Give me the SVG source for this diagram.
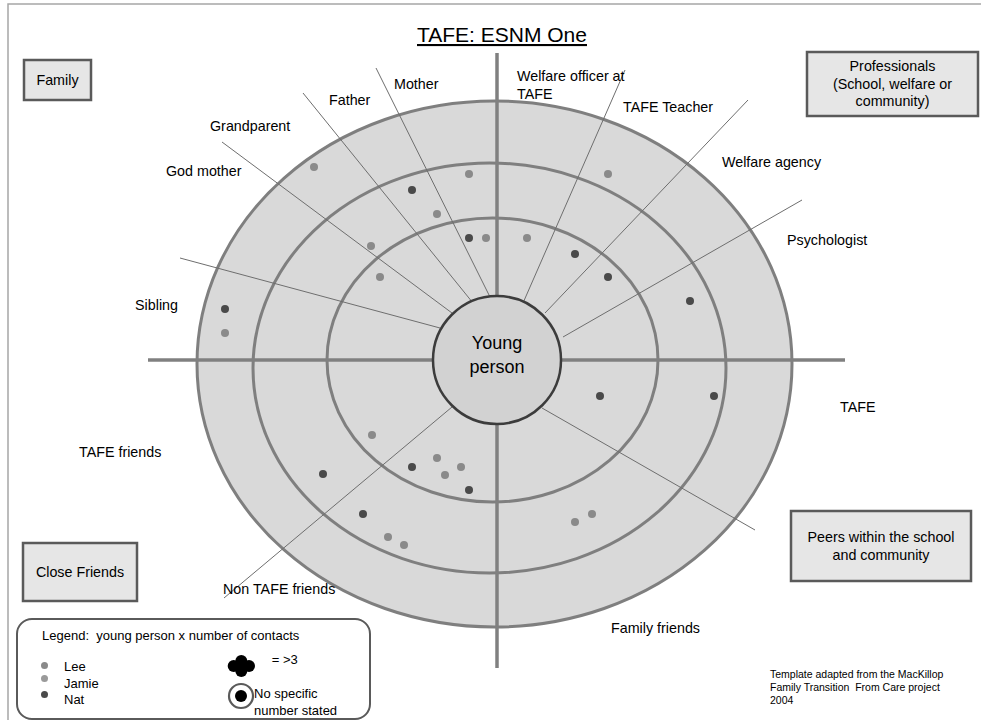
<svg xmlns="http://www.w3.org/2000/svg" width="981" height="720" viewBox="0 0 981 720">
<style>
text{font-family:"Liberation Sans",Arial,sans-serif;fill:#000}
.lbl{font-size:14.3px}
.box{fill:#e6e6e6;stroke:#5a5a5a;stroke-width:2.5}
.ring{fill:#d9d9d9;stroke:#7f7f7f;stroke-width:3}
.axis{stroke:#808080;stroke-width:3.5;fill:none}
.spoke{stroke:#6e6e6e;stroke-width:1;fill:none}
.lt{fill:#8a8a8a}
.jm{fill:#9a9a9a}
.dk{fill:#4a4a4a}
.sm{font-size:13px}
.ft{font-size:10.5px}
</style>
<rect x="0" y="0" width="981" height="720" fill="#fff"/>
<rect x="8" y="4" width="990" height="730" fill="none" stroke="#a6a6a6" stroke-width="1.5"/>

<g id="title"><text x="502" y="42" font-size="21px" text-anchor="middle" text-decoration="underline">TAFE: ESNM One</text></g>

<g id="rings">
<ellipse class="ring" cx="494.5" cy="364" rx="297.5" ry="263"/>
<ellipse class="ring" cx="489.5" cy="368" rx="236.5" ry="205"/>
<ellipse class="ring" cx="492.5" cy="360" rx="165.5" ry="142"/>
</g>

<g id="connectors">
<line class="spoke" x1="180" y1="258" x2="440" y2="328"/>
<line class="spoke" x1="222" y1="142" x2="452" y2="313"/>
<line class="spoke" x1="303" y1="93" x2="473" y2="303"/>
<line class="spoke" x1="376" y1="68" x2="490" y2="297"/>
<line class="spoke" x1="625" y1="70" x2="523" y2="303"/>
<line class="spoke" x1="748" y1="100" x2="545" y2="313"/>
<line class="spoke" x1="802" y1="200" x2="563" y2="337"/>
<line class="spoke" x1="542" y1="408" x2="755" y2="530"/>
<line class="spoke" x1="452" y1="407" x2="224" y2="598"/>
<line class="axis" x1="497" y1="53" x2="497" y2="668"/>
<line class="axis" x1="148" y1="360" x2="845" y2="360"/>
</g>

<g id="dots">
<circle class="lt" cx="314" cy="167" r="4"/>
<circle class="lt" cx="469" cy="174" r="4"/>
<circle class="dk" cx="412" cy="190" r="4"/>
<circle class="lt" cx="437" cy="214" r="4"/>
<circle class="dk" cx="469" cy="238" r="4"/>
<circle class="lt" cx="486" cy="238" r="4"/>
<circle class="lt" cx="371" cy="246" r="4"/>
<circle class="lt" cx="380" cy="277" r="4"/>
<circle class="dk" cx="225" cy="309" r="4"/>
<circle class="lt" cx="225" cy="333" r="4"/>
<circle class="lt" cx="608" cy="174" r="4"/>
<circle class="lt" cx="527" cy="238" r="4"/>
<circle class="dk" cx="575" cy="254" r="4"/>
<circle class="dk" cx="608" cy="277" r="4"/>
<circle class="dk" cx="690" cy="301" r="4"/>
<circle class="dk" cx="714" cy="396" r="4"/>
<circle class="dk" cx="600" cy="396" r="4"/>
<circle class="lt" cx="372" cy="435" r="4"/>
<circle class="lt" cx="437" cy="458" r="4"/>
<circle class="dk" cx="412" cy="467" r="4"/>
<circle class="lt" cx="461" cy="467" r="4"/>
<circle class="lt" cx="445" cy="475" r="4"/>
<circle class="dk" cx="323" cy="474" r="4"/>
<circle class="dk" cx="469" cy="490" r="4"/>
<circle class="dk" cx="363" cy="514" r="4"/>
<circle class="lt" cx="592" cy="514" r="4"/>
<circle class="lt" cx="575" cy="522" r="4"/>
<circle class="lt" cx="388" cy="537" r="4"/>
<circle class="lt" cx="404" cy="545" r="4"/>
</g>

<g id="young-person">
<circle cx="497" cy="360" r="64" fill="#d2d2d2" stroke="#3c3c3c" stroke-width="2.5"/>
<text x="497" y="349" font-size="18px" text-anchor="middle">Young</text>
<text x="497" y="373" font-size="18px" text-anchor="middle">person</text>
</g>

<g id="family"><rect class="box" x="24" y="60" width="67" height="40"/><text class="lbl" x="57.5" y="85" text-anchor="middle">Family</text></g>
<g id="professionals"><rect class="box" x="807" y="52" width="171" height="64"/>
<text class="lbl" x="892.5" y="71" text-anchor="middle">Professionals</text>
<text class="lbl" x="892.5" y="89" text-anchor="middle">(School, welfare or</text>
<text class="lbl" x="892.5" y="106" text-anchor="middle">community)</text></g>
<g id="close-friends"><rect class="box" x="23" y="543" width="114" height="58"/><text class="lbl" x="80" y="577" text-anchor="middle">Close Friends</text></g>
<g id="peers"><rect class="box" x="791" y="511" width="180" height="70"/>
<text class="lbl" x="881" y="542" text-anchor="middle">Peers within the school</text>
<text class="lbl" x="881" y="560" text-anchor="middle">and community</text></g>

<g id="labels">
<text class="lbl" x="394" y="89">Mother</text>
<text class="lbl" x="329" y="105">Father</text>
<text class="lbl" x="210" y="131">Grandparent</text>
<text class="lbl" x="166" y="176">God mother</text>
<text class="lbl" x="178" y="310" text-anchor="end">Sibling</text>
<text class="lbl" x="79" y="457">TAFE friends</text>
<text class="lbl" x="223" y="594">Non TAFE friends</text>
<text class="lbl" x="611" y="633">Family friends</text>
<text class="lbl" x="840" y="412">TAFE</text>
<text class="lbl" x="787" y="245">Psychologist</text>
<text class="lbl" x="722" y="167">Welfare agency</text>
<text class="lbl" x="623" y="112">TAFE Teacher</text>
<text class="lbl" x="517" y="81">Welfare officer at</text>
<text class="lbl" x="517" y="99">TAFE</text>
</g>

<g id="footnote">
<text class="ft" x="770" y="678">Template adapted from the MacKillop</text>
<text class="ft" x="770" y="691" xml:space="preserve">Family Transition  From Care project</text>
<text class="ft" x="770" y="704">2004</text>
</g>

<g id="legend">
<rect x="17" y="619" width="353" height="100" rx="15" ry="15" fill="#fff" stroke="#5a5a5a" stroke-width="2"/>
<text class="sm" x="42" y="640" xml:space="preserve">Legend:  young person x number of contacts</text>
<circle class="lt" cx="44.5" cy="665.5" r="3.5"/>
<circle class="jm" cx="44.5" cy="678.5" r="3.5"/>
<circle class="dk" cx="44.5" cy="694.5" r="3.5"/>
<text class="sm" x="64" y="671">Lee</text>
<text class="sm" x="64" y="687.5">Jamie</text>
<text class="sm" x="64" y="703.5">Nat</text>
<g fill="#000">
<circle cx="233.7" cy="666" r="6"/>
<circle cx="249" cy="666" r="6"/>
<circle cx="241.3" cy="661" r="6"/>
<circle cx="241.3" cy="671" r="6"/>
<rect x="236" y="661" width="10" height="10"/>
</g>
<text class="sm" x="271.7" y="664">= &gt;3</text>
<circle cx="241" cy="696" r="12" fill="#fff" stroke="#5a5a5a" stroke-width="2.2"/>
<circle cx="241" cy="696" r="6" fill="#000"/>
<text class="sm" x="254" y="697.5">No specific</text>
<text class="sm" x="254" y="715">number stated</text>
</g>
</svg>
